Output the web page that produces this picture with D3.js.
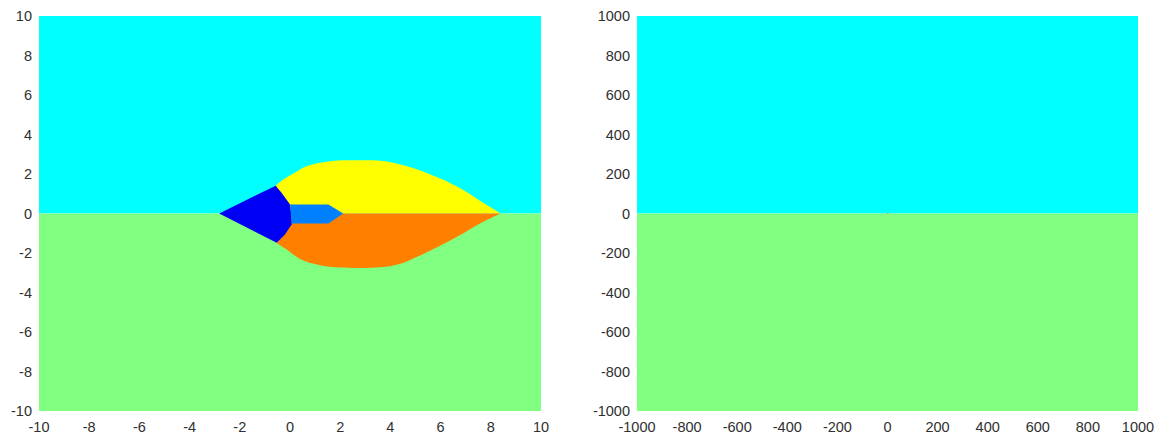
<!DOCTYPE html>
<html>
<head>
<meta charset="utf-8">
<script src="https://cdn.jsdelivr.net/npm/d3@7"></script>
<style>
  body { margin: 0; background: #fff; }
  .tick-label { font-family: "Liberation Sans", Arial, sans-serif; font-size: 14.5px; fill: #303030; }
</style>
</head>
<body>
<div id="chart"></div>
<script>
// region boundaries, in data units [x, y]
var yellowEdge = [[-0.57, 1.41], [-0.27, 1.72], [0.13, 2.02], [0.66, 2.39], [1.33, 2.59], [2.1, 2.69],
  [2.79, 2.70], [3.5, 2.68], [4.2, 2.55], [4.9, 2.3], [5.6, 1.97], [6.37, 1.55], [7.0, 1.12], [7.6, 0.62], [8.4, 0]];
var orangeEdge = [[-0.53, -1.48], [-0.35, -1.65], [-0.05, -1.9], [0.4, -2.3], [1.2, -2.62], [2.0, -2.74],
  [3.0, -2.76], [3.8, -2.7], [4.5, -2.5], [5.2, -2.12], [6.0, -1.62], [6.8, -1.07], [7.57, -0.5], [8.4, 0]];
var blueRegion = [[-2.82, 0], [-0.57, 1.41], [-0.33, 1.04], [0, 0.45], [0.05, 0], [0.07, -0.55],
  [-0.2, -1.06], [-0.53, -1.48]];
var lightBlueRegion = [[0, 0.45], [1.53, 0.45], [2.12, 0], [1.53, -0.5], [0.07, -0.5]];

var leftTicks = [-10, -8, -6, -4, -2, 0, 2, 4, 6, 8, 10];
var rightTicks = [-1000, -800, -600, -400, -200, 0, 200, 400, 600, 800, 1000];

var width = 1161, height = 436;
var top_y = 16, bottom_y = 411;

var svg = d3.select("#chart")
    .append("svg")
    .attr("width", width)
    .attr("height", height);

function drawPanel(x0, x1, lim, ticks) {
  var x = d3.scaleLinear().domain([-lim, lim]).range([x0, x1]);
  var y = d3.scaleLinear().domain([-lim, lim]).range([bottom_y, top_y]);
  var g = svg.append("g");

  // upper half-plane and lower half-plane
  g.append("rect")
      .attr("x", x(-lim)).attr("y", y(lim))
      .attr("width", x(lim) - x(-lim)).attr("height", y(0) - y(lim))
      .attr("fill", "#00ffff");
  g.append("rect")
      .attr("x", x(-lim)).attr("y", y(0))
      .attr("width", x(lim) - x(-lim)).attr("height", y(-lim) - y(0))
      .attr("fill", "#80ff80");

  var curve = d3.line().curve(d3.curveCatmullRom)
      .x(function(d) { return x(d[0]); }).y(function(d) { return y(d[1]); });
  var line = d3.line().x(function(d) { return x(d[0]); }).y(function(d) { return y(d[1]); });

  // smooth outer edge, then straight back along the real axis
  g.append("path")
      .attr("d", curve(yellowEdge) + "L" + x(0) + "," + y(0) + "Z")
      .attr("fill", "#ffff00");
  g.append("path")
      .attr("d", curve(orangeEdge) + "L" + x(0) + "," + y(0) + "Z")
      .attr("fill", "#ff8000");
  g.append("path")
      .attr("d", line(blueRegion) + "Z")
      .attr("fill", "#0000f5");
  g.append("path")
      .attr("d", line(lightBlueRegion) + "Z")
      .attr("fill", "#0080ff");

  // tick labels only (no axis lines in the picture)
  g.selectAll(".xl").data(ticks).enter()
    .append("text")
      .attr("class", "tick-label")
      .attr("x", function(d) { return x(d); })
      .attr("y", 432)
      .attr("text-anchor", "middle")
      .text(function(d) { return d; });

  g.selectAll(".yl").data(ticks).enter()
    .append("text")
      .attr("class", "tick-label")
      .attr("x", x0 - 7)
      .attr("y", function(d) { return y(d); })
      .attr("dy", "0.35em")
      .attr("text-anchor", "end")
      .text(function(d) { return d; });
}

drawPanel(39, 541, 10, leftTicks);
drawPanel(637, 1138, 1000, rightTicks);
</script>
</body>
</html>
